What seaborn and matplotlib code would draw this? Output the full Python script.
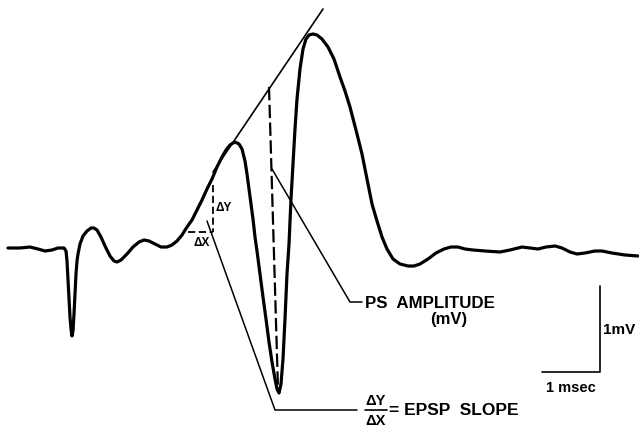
import pandas as pd
import seaborn as sns
import matplotlib.pyplot as plt

# field potential trace (pixel coords, y grows downward)
trace_x = [8, 20, 30, 38, 45, 52, 58, 64, 66, 67, 68, 69, 70, 71, 72, 73, 74, 75, 76, 77, 78,
           80, 83, 87, 91, 94, 97, 101, 105, 110, 114, 117, 121, 127, 133, 139, 144, 149, 155,
           161, 167, 172, 177, 182, 187, 192, 197, 202, 207, 212, 217, 222, 226, 230, 233, 235,
           239, 242, 245, 247, 249, 251, 253, 255, 257, 260, 263, 266, 269, 272, 275, 277, 279,
           281, 283, 285, 287, 289, 291, 293, 295, 297, 300, 303, 306, 309, 313, 317, 322, 328,
           334, 340, 345, 350, 357, 362, 367, 372, 377, 382, 387, 393, 400, 408, 414, 420, 428,
           436, 444, 451, 458, 465, 473, 485, 500, 510, 522, 530, 538, 546, 555, 562, 570, 577,
           585, 595, 602, 612, 625, 638]
trace_y = [249, 249, 248, 250, 252, 251, 249, 249, 252, 262, 280, 300, 318, 330, 337, 332, 315,
           295, 275, 262, 255, 245, 237, 232, 229, 229, 231, 238, 247, 257, 262, 263, 261, 255,
           248, 243, 241, 242, 245, 248, 248, 246, 242, 236, 228, 221, 211, 201, 190, 180, 168,
           158, 151, 146, 144, 143, 145, 150, 162, 175, 190, 205, 220, 238, 252, 275, 298, 320,
           343, 363, 380, 390, 394, 385, 360, 320, 275, 245, 200, 165, 130, 100, 70, 50, 40, 36,
           35, 36, 40, 48, 60, 78, 92, 108, 135, 155, 180, 205, 222, 238, 250, 260, 265, 267,
           267, 265, 260, 254, 250, 248, 248, 250, 251, 252, 253, 251, 248, 249, 250, 248, 247,
           249, 253, 255, 254, 252, 252, 254, 256, 257]

# construction lines
tangent_x = [213, 323]
tangent_y = [173, 10]
ps_dash_x = [269, 278]
ps_dash_y = [88, 390]
dy_dash_x = [213, 213]
dy_dash_y = [186, 233]
dx_dash_x = [188, 213]
dx_dash_y = [233, 233]
epsp_lead_x = [207, 275, 357]
epsp_lead_y = [222, 411, 411]
ps_lead_x = [272, 350, 362]
ps_lead_y = [170, 303, 303]
scale_x = [542, 600, 600]
scale_y = [373, 373, 287]

sns.set_style("white")
plt.rcParams["font.family"] = ["Liberation Sans", "DejaVu Sans"]

fig = plt.figure(figsize=(6.39, 4.27), dpi=100)
ax = fig.add_axes([0, 0, 1, 1])

trace = pd.DataFrame({"x": trace_x, "y": trace_y})
sns.lineplot(data=trace, x="x", y="y", sort=False, estimator=None,
             color="black", lw=2.3, ax=ax)

def seg(xs, ys, **kw):
    sns.lineplot(x=xs, y=ys, sort=False, estimator=None, color="black", ax=ax, **kw)

seg(tangent_x, tangent_y, lw=1.2)
seg(ps_dash_x, ps_dash_y, lw=1.6, linestyle=(0, (6, 2)))
seg(dy_dash_x, dy_dash_y, lw=1.3, linestyle=(0, (4, 2)))
seg(dx_dash_x, dx_dash_y, lw=1.3, linestyle=(0, (4, 2)))
seg(epsp_lead_x, epsp_lead_y, lw=1.1)
seg(ps_lead_x, ps_lead_y, lw=1.1)
seg(scale_x, scale_y, lw=1.2)

# fraction bar
seg([365, 387], [411, 411], lw=1.2)

txt = dict(color="black", fontweight="bold")
ax.text(216, 208, "ΔY", fontsize=8.5, va="center", ha="left", **txt)
ax.text(193, 243, "ΔX", fontsize=8.5, va="center", ha="left", **txt)
ax.text(365, 304, "PS  AMPLITUDE", fontsize=12.2, va="center", ha="left", **txt)
ax.text(449, 320, "(mV)", fontsize=12, va="center", ha="center", **txt)
ax.text(376, 401, "ΔY", fontsize=10.5, va="center", ha="center", **txt)
ax.text(376, 421, "ΔX", fontsize=10.5, va="center", ha="center", **txt)
ax.text(389, 411, "= EPSP  SLOPE", fontsize=12.5, va="center", ha="left", **txt)
ax.text(603, 330, "1mV", fontsize=11, va="center", ha="left", **txt)
ax.text(571, 388, "1 msec", fontsize=10.5, va="center", ha="center", **txt)

ax.set_xlim(0, 639)
ax.set_ylim(427, 0)
ax.set_axis_off()

fig.savefig("out.png", dpi=100)
